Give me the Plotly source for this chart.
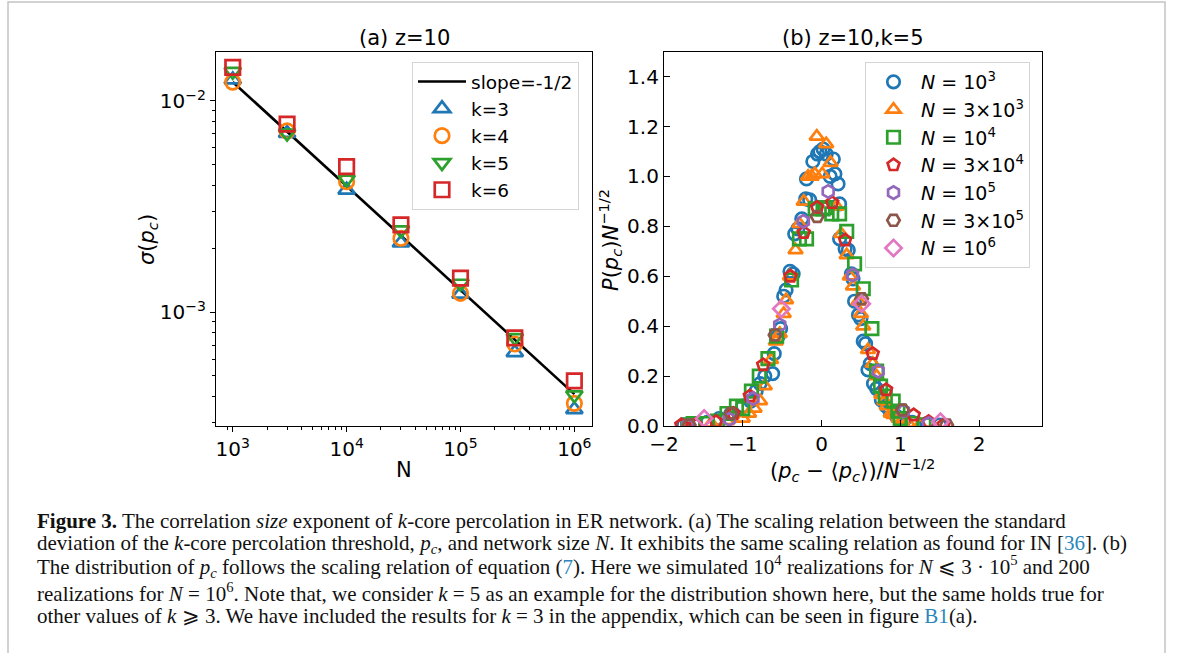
import plotly.graph_objects as go

# ---------------- data: panel (a) ----------------
N_vals = [1e3, 3e3, 1e4, 3e4, 1e5, 3e5, 1e6]
sigma_k3 = [0.0126, 0.00703, 0.00379, 0.00213, 0.00122, 0.000646, 0.000347]
sigma_k4 = [0.01228, 0.00721, 0.00415, 0.00224, 0.00123, 0.000708, 0.000371]
sigma_k5 = [0.01377, 0.00703, 0.00426, 0.00245, 0.00137, 0.000758, 0.000406]
sigma_k6 = [0.0144, 0.00776, 0.00489, 0.00259, 0.00145, 0.000756, 0.000474]
line_N = [1e3, 1e6]
line_sigma = [0.0123, 0.00041]

x_tick_vals = [1e3, 1e4, 1e5, 1e6]
x_tick_text = ["10<sup>3</sup>", "10<sup>4</sup>", "10<sup>5</sup>", "10<sup>6</sup>"]
y_tick_vals = [1e-3, 1e-2]
y_tick_text = ["10<sup>−3</sup>", "10<sup>−2</sup>"]

# ---------------- data: panel (b) ----------------
x_1e3 = [-1.75, -1.6, -1.45, -1.3, -1.15, -1.0, -0.9, -0.83, -0.78, -0.72, -0.62, -0.6, -0.55, -0.52,
         -0.48, -0.45, -0.4, -0.36, -0.34, -0.3, -0.25, -0.2, -0.19, -0.15, -0.11, -0.05, -0.02, 0.02,
         0.06, 0.11, 0.15, 0.17, 0.21, 0.23, 0.23, 0.3, 0.34, 0.38, 0.4, 0.42, 0.47, 0.5, 0.53, 0.56,
         0.59, 0.62, 0.66, 0.7, 0.76, 0.82, 0.87, 0.95, 1.05, 1.15, 1.34, 1.5]
y_1e3 = [0.005, 0.008, 0.015, 0.03, 0.05, 0.08, 0.1, 0.14, 0.17, 0.2, 0.21, 0.29, 0.36, 0.39,
         0.52, 0.545, 0.62, 0.61, 0.77, 0.79, 0.83, 0.91, 0.99, 0.906, 1.06, 1.09, 1.10, 1.11,
         1.09, 1.0, 1.07, 1.01, 0.97, 0.89, 0.75, 0.71, 0.705, 0.61, 0.59, 0.5, 0.445, 0.43, 0.34, 0.33,
         0.225, 0.25, 0.17, 0.15, 0.105, 0.08, 0.06, 0.04, 0.025, 0.015, 0.01, 0.004]

x_3e3 = [-1.7, -1.4, -1.2, -1.0, -0.92, -0.85, -0.78, -0.72, -0.64, -0.58, -0.53, -0.48, -0.45, -0.4,
         -0.33, -0.28, -0.225, -0.17, -0.125, -0.085, -0.06, 0.01, 0.06, 0.115, 0.19, 0.25, 0.32, 0.36,
         0.40, 0.47, 0.5, 0.53, 0.59, 0.65, 0.70, 0.76, 0.8, 0.83, 0.88, 0.91, 0.98, 1.02, 1.1, 1.25]
y_3e3 = [0.003, 0.01, 0.02, 0.03, 0.05, 0.07, 0.1, 0.16, 0.265, 0.34, 0.37, 0.45, 0.505, 0.6,
         0.705, 0.81, 0.9, 1.0, 1.0, 1.01, 1.16, 1.01, 1.13, 1.055, 0.88, 0.77, 0.685, 0.6,
         0.56, 0.5, 0.45, 0.4, 0.305, 0.25, 0.2, 0.125, 0.1, 0.08, 0.05, 0.045, 0.03, 0.02, 0.01, 0.005]

x_1e4 = [-1.7, -1.63, -1.45, -1.32, -1.2, -1.08, -1.0, -0.89, -0.79, -0.68, -0.57, -0.38, -0.28, -0.19,
         -0.08, 0.02, 0.05, 0.13, 0.23, 0.32, 0.42, 0.53, 0.64, 0.70, 0.75, 0.81, 0.91, 0.97, 1.0, 1.15, 1.3]
y_1e4 = [0.004, 0.01, 0.01, 0.02, 0.05, 0.08, 0.07, 0.14, 0.2, 0.27, 0.36, 0.585, 0.75, 0.75,
         0.87, 0.87, 0.875, 0.85, 0.85, 0.78, 0.65, 0.55, 0.39, 0.22, 0.16, 0.12, 0.10, 0.06, 0.03, 0.01, 0.005]

x_3e4 = [-1.78, -1.6, -1.34, -1.12, -0.91, -0.74, -0.395, -0.225, -0.055, 0.136, 0.30, 0.65, 0.82, 1.17, 1.36, 1.55]
y_3e4 = [0.004, 0.005, 0.017, 0.05, 0.12, 0.245, 0.6, 0.775, 0.876, 0.895, 0.745, 0.29, 0.145, 0.044, 0.017, 0.004]

x_1e5 = [-1.7, -1.17, -0.87, -0.53, -0.23, 0.085, 0.395, 0.72, 1.04, 1.36]
y_1e5 = [0.002, 0.027, 0.11, 0.405, 0.82, 0.94, 0.605, 0.22, 0.06, 0.01]

x_3e5 = [-1.68, -1.15, -0.59, -0.055, 0.51, 1.03, 1.59]
y_3e5 = [0.004, 0.05, 0.365, 0.84, 0.51, 0.064, 0.004]

x_1e6 = [-1.49, -0.51, 0.51, 1.51]
y_1e6 = [0.03, 0.47, 0.49, 0.017]

W, H = 1181, 653


def px(x):
    return x / W


def py(y):
    return 1 - y / H


fig = go.Figure()

# ---- panel (a)
fig.add_trace(go.Scatter(x=line_N, y=line_sigma, mode="lines", name="slope=-1/2",
                         line=dict(color="black", width=2.6), xaxis="x", yaxis="y",
                         legend="legend"))
left_series = [
    ("k=3", sigma_k3, "triangle-up-open", "#1f77b4"),
    ("k=4", sigma_k4, "circle-open", "#ff7f0e"),
    ("k=5", sigma_k5, "triangle-down-open", "#2ca02c"),
    ("k=6", sigma_k6, "square-open", "#d62728"),
]
for nm, vals, sym, col in left_series:
    fig.add_trace(go.Scatter(x=N_vals, y=vals, mode="markers", name=nm,
                             marker=dict(symbol=sym, size=14.5, color=col, line=dict(color=col, width=2.7)),
                             xaxis="x", yaxis="y", legend="legend"))

# ---- panel (b)
right_series = [
    ("<i>N</i> = 10<sup>3</sup>", x_1e3, y_1e3, "circle-open", "#1f77b4"),
    ("<i>N</i> = 3×10<sup>3</sup>", x_3e3, y_3e3, "triangle-up-open", "#ff7f0e"),
    ("<i>N</i> = 10<sup>4</sup>", x_1e4, y_1e4, "square-open", "#2ca02c"),
    ("<i>N</i> = 3×10<sup>4</sup>", x_3e4, y_3e4, "pentagon-open", "#d62728"),
    ("<i>N</i> = 10<sup>5</sup>", x_1e5, y_1e5, "hexagon-open", "#9467bd"),
    ("<i>N</i> = 3×10<sup>5</sup>", x_3e5, y_3e5, "hexagon2-open", "#8c564b"),
    ("<i>N</i> = 10<sup>6</sup>", x_1e6, y_1e6, "diamond-open", "#e377c2"),
]
for nm, xs, ys, sym, col in right_series:
    fig.add_trace(go.Scatter(x=xs, y=ys, mode="markers", name=nm,
                             marker=dict(symbol=sym, size=12.5, color=col, line=dict(color=col, width=2.7)),
                             xaxis="x2", yaxis="y2", legend="legend2"))

tick_font = dict(family="DejaVu Sans", size=20, color="black")

x_minor = [900] + [m * 10 ** e for e in (3, 4, 5) for m in range(2, 10)]
y_minor = [m * 10 ** e for e in (-4, -3) for m in range(2, 10)]

axis_common = dict(showline=True, linecolor="black", linewidth=1.2, mirror=True,
                   showgrid=False, zeroline=False, tickfont=tick_font, automargin=False,
                   tickcolor="black", tickwidth=1.2)

fig.update_layout(
    width=W, height=H, autosize=False,
    margin=dict(l=0, r=0, t=0, b=0, pad=0, autoexpand=False),
    paper_bgcolor="white", plot_bgcolor="white",
    font=dict(family="DejaVu Sans", size=20, color="black"),
    xaxis=dict(type="log", domain=[px(216), px(592)], range=[2.853, 6.155],
               tickvals=x_tick_vals, ticktext=x_tick_text, ticks="outside", ticklen=5,
               minor=dict(tickmode="array", tickvals=x_minor, ticks="outside", ticklen=3,
                          tickcolor="black", tickwidth=1),
               anchor="y", **axis_common),
    yaxis=dict(type="log", domain=[py(426), py(51.7)], range=[-3.538, -1.767],
               tickvals=y_tick_vals, ticktext=y_tick_text, ticks="outside", ticklen=5,
               minor=dict(tickmode="array", tickvals=y_minor, ticks="outside", ticklen=3,
                          tickcolor="black", tickwidth=1),
               anchor="x", **axis_common),
    xaxis2=dict(domain=[px(664), px(1042)], range=[-2, 2.8], tickvals=[-2, -1, 0, 1, 2],
                ticks="inside", ticklen=6, anchor="y2", **axis_common),
    yaxis2=dict(domain=[py(426), py(51.7)], range=[0, 1.5], tickvals=[0, 0.2, 0.4, 0.6, 0.8, 1.0, 1.2, 1.4],
                tickformat=".1f", ticks="inside", ticklen=6, anchor="x2", **axis_common),
    legend=dict(x=px(412), y=py(62), xanchor="left", yanchor="top",
                bgcolor="rgba(255,255,255,0.85)", bordercolor="#d5d5d5", borderwidth=1,
                font=dict(family="DejaVu Sans", size=18.5), tracegroupgap=0, itemwidth=48),
    legend2=dict(x=px(865), y=py(62), xanchor="left", yanchor="top",
                 bgcolor="rgba(255,255,255,0.85)", bordercolor="#d5d5d5", borderwidth=1,
                 font=dict(family="DejaVu Sans", size=19), tracegroupgap=0, itemwidth=45),
    showlegend=True,
)

annotations = [
    dict(text="(a) z=10", x=px(404), y=py(38), xanchor="center", yanchor="middle", font=dict(size=21)),
    dict(text="(b) z=10,k=5", x=px(853), y=py(38), xanchor="center", yanchor="middle", font=dict(size=21)),
    dict(text="N", x=px(404), y=py(470), xanchor="center", yanchor="middle", font=dict(size=21)),
    dict(text="(<i>p<sub>c</sub></i> − ⟨<i>p<sub>c</sub></i>⟩)/<i>N</i><sup>−1/2</sup>", x=px(852), y=py(470),
         xanchor="center", yanchor="middle", font=dict(size=21)),
    dict(text="<i>σ</i>(<i>p<sub>c</sub></i>)", x=px(148), y=py(240), textangle=-90,
         xanchor="center", yanchor="middle", font=dict(size=21)),
    dict(text="<i>P</i>(<i>p<sub>c</sub></i>)<i>N</i><sup>−1/2</sup>", x=px(610), y=py(240), textangle=-90,
         xanchor="center", yanchor="middle", font=dict(size=21)),
]

link = "color:#2a86bd"
caption_lines = [
    "<b>Figure 3.</b> The correlation <i>size</i> exponent of <i>k</i>-core percolation in ER network. (a) The scaling relation between the standard",
    "deviation of the <i>k</i>-core percolation threshold, <i>p<sub>c</sub></i>, and network size <i>N</i>. It exhibits the same scaling relation as found for IN [<span style='%s'>36</span>]. (b)" % link,
    "The distribution of <i>p<sub>c</sub></i> follows the scaling relation of equation (<span style='%s'>7</span>). Here we simulated 10<sup>4</sup> realizations for <i>N</i> ⩽ 3 · 10<sup>5</sup> and 200" % link,
    "realizations for <i>N</i> = 10<sup>6</sup>. Note that, we consider <i>k</i> = 5 as an example for the distribution shown here, but the same holds true for",
    "other values of <i>k</i> ⩾ 3. We have included the results for <i>k</i> = 3 in the appendix, which can be seen in figure <span style='%s'>B1</span>(a)." % link,
]
caption_y = [520.5, 543.5, 566.5, 592, 615.5]
for txt, yy in zip(caption_lines, caption_y):
    annotations.append(dict(text=txt, x=px(35), y=py(yy), xanchor="left", yanchor="middle", align="left",
                            font=dict(family="Liberation Serif", size=21, color="#111")))

for a in annotations:
    a.update(xref="paper", yref="paper", showarrow=False)
fig.update_layout(annotations=annotations)

# light grey frame around the figure
fig.add_shape(type="rect", xref="paper", yref="paper", x0=px(8), x1=px(1165), y0=-0.05, y1=py(2),
              line=dict(color="#c4c4c4", width=1.5), fillcolor="rgba(0,0,0,0)", layer="below")

fig.write_html("out.html")
